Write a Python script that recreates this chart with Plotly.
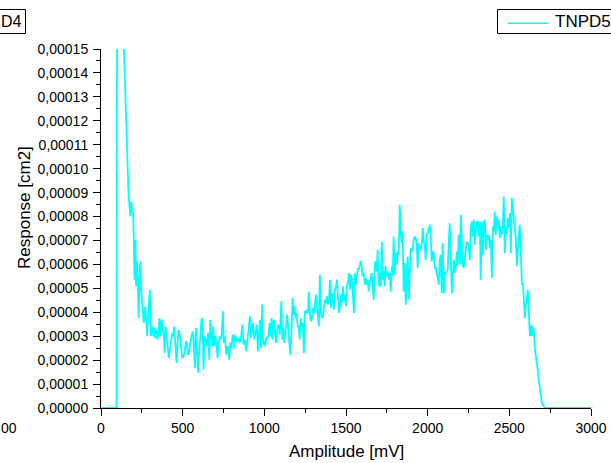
import plotly.graph_objects as go

# ---- data ----
amplitude_mv = [
    0, 95, 100, 115, 125, 135,
    168, 179, 185, 191, 197, 201, 205, 211, 215, 220, 226, 230, 240, 246, 256, 262, 271, 277, 283, 289,
    299, 305, 313, 320, 326, 332, 338, 346, 352, 358, 364, 371, 377, 385, 389, 395, 403, 409, 416, 422,
    430, 436, 442, 448, 456, 463, 469, 475, 483, 491, 497, 505, 511, 520, 526, 532, 540, 546, 554, 561,
    569, 575, 581, 589, 595, 601, 610, 616, 622, 628, 634, 642, 650, 656, 663, 669, 675, 681, 687, 693,
    699, 706, 714, 720, 726, 732, 738, 746, 752, 759, 767, 773, 779, 785, 791, 799, 806, 814,
    816, 824, 832, 840, 848, 856, 865, 873, 881, 889, 897, 905, 912, 918, 924, 930, 938, 946, 954, 961,
    967, 973, 979, 987, 993, 999, 1006, 1012, 1020, 1026, 1032, 1038, 1044, 1050, 1057, 1063, 1071, 1077,
    1083, 1089, 1095, 1104, 1110, 1116, 1122, 1128, 1134, 1140, 1146, 1153, 1159, 1167, 1173, 1179, 1185,
    1191, 1197, 1204, 1210, 1216, 1222, 1228, 1236, 1242, 1248, 1255, 1261, 1267, 1273, 1279, 1285, 1291,
    1298, 1304, 1310, 1316, 1322, 1328, 1334, 1340, 1347, 1353, 1359, 1365, 1371, 1377, 1383, 1389, 1396,
    1402, 1408, 1414, 1420, 1426, 1432, 1438, 1445, 1451, 1457, 1463, 1469, 1475, 1481, 1487, 1494, 1500,
    1506, 1512, 1518, 1524, 1530, 1536, 1543, 1549, 1555, 1561, 1567, 1573, 1579,
    1590, 1596, 1602, 1608, 1615, 1621, 1627, 1633, 1639, 1645, 1651, 1657, 1664, 1670, 1676, 1682, 1688,
    1694, 1700, 1706, 1713, 1719, 1725, 1731, 1737, 1743, 1749, 1755, 1762, 1768, 1774, 1780, 1786, 1792,
    1798, 1804, 1811, 1817, 1823, 1829, 1835, 1841, 1847, 1853, 1860, 1866, 1872, 1878, 1884, 1890, 1896,
    1903, 1909, 1915, 1921, 1927, 1933, 1939, 1945, 1951, 1958, 1964, 1970, 1976, 1982, 1988, 1994, 2001,
    2007, 2013, 2019, 2025, 2031, 2037, 2043, 2050, 2056, 2062, 2068, 2074, 2080, 2086, 2092, 2099, 2105,
    2111, 2117, 2123, 2129, 2135, 2141, 2148, 2154, 2160, 2166, 2172, 2178, 2184, 2190, 2197, 2203, 2209,
    2215, 2221, 2227, 2233, 2239, 2246, 2252, 2258, 2264, 2270, 2276, 2282, 2288, 2295, 2301, 2307, 2313,
    2319, 2325, 2331, 2337, 2344,
    2350, 2356, 2362, 2368, 2374, 2381, 2387, 2393, 2399, 2405, 2411, 2417, 2423, 2430, 2436, 2442, 2448,
    2454, 2460, 2466, 2472, 2479, 2485, 2491, 2497, 2503, 2509, 2515, 2521, 2528, 2534, 2540, 2546, 2552,
    2558, 2564, 2570, 2577, 2583, 2589, 2595, 2601, 2607, 2613, 2620, 2626, 2632, 2638, 2644, 2650, 2656,
    2662, 2668, 2675, 2681, 2687, 2693, 2699, 2705, 2711, 2717, 3000,
]

# response in units of 1e-5 cm2
response_e5 = [
    0, 0, 28.0, 24.0, 20.0, 16.1,
    9.05, 8.00, 8.63, 8.21, 8.14, 7.03, 5.36, 7.03, 5.08, 6.13, 5.36, 3.76, 6.13, 4.94, 4.25, 3.55, 4.25, 3.41, 3.00, 3.97,
    4.94, 3.00, 3.41, 3.00, 3.34, 2.93, 3.27, 2.86, 3.27, 3.76, 3.00, 3.69, 3.41, 3.00, 2.30, 3.41, 2.86, 2.44, 2.09, 2.51,
    3.00, 3.14, 3.00, 3.41, 2.58, 1.88, 2.72, 3.27, 3.00, 2.58, 2.09, 2.16, 2.30, 2.79, 2.72, 2.23, 2.30, 2.72, 3.00, 3.20,
    2.58, 1.67, 3.34, 2.30, 1.47, 2.30, 3.00, 3.76, 3.69, 1.60, 3.00, 2.86, 2.58, 3.14, 2.02, 3.69, 3.00, 2.58, 3.41, 2.58,
    3.00, 2.72, 2.09, 2.58, 3.00, 2.86, 3.00, 4.04, 2.72, 3.00, 2.23, 2.58, 2.51, 2.02, 2.72, 2.51, 3.00, 3.07,
    2.51, 2.99, 2.79, 2.93, 2.72, 2.86, 3.48, 2.65, 2.86, 2.37, 2.99, 3.41, 3.83, 2.93, 3.21, 3.55, 2.86, 3.21, 3.48, 2.37,
    3.14, 3.69, 2.51, 4.32, 2.65, 2.79, 2.58, 2.93, 2.93, 3.07, 3.55, 2.99, 3.76, 2.86, 3.69, 3.41, 2.72, 3.21,
    3.48, 3.41, 3.07, 4.46, 2.86, 3.34, 2.72, 3.07, 3.41, 3.90, 3.34, 2.79, 2.23, 3.34, 4.60, 3.90, 4.25,
    3.76, 3.97, 3.41, 3.41, 2.86, 3.76, 3.41, 3.55, 2.30, 4.04, 3.97, 4.11, 3.97, 4.87, 3.90, 3.62, 3.76,
    4.18, 3.97, 4.32, 4.74, 4.25, 3.69, 3.41, 5.57, 3.90, 3.76, 3.83, 4.18, 4.53, 4.39, 4.67, 4.32, 4.53,
    5.36, 4.18, 4.80, 4.32, 4.11, 4.94, 5.08, 5.36, 4.80, 3.97, 4.25, 4.74, 4.39, 5.08, 4.46, 4.74, 4.25,
    5.15, 5.22, 5.64, 4.94, 5.57, 5.36, 4.67, 3.97, 5.64, 5.15, 5.50, 5.85, 5.78,
    6.13, 5.92, 5.50, 5.64, 5.15, 5.43, 5.15, 5.36, 4.87, 5.22, 5.50, 5.64, 4.94, 4.53, 5.99, 6.13, 5.71,
    6.61, 5.08, 5.64, 5.08, 6.96, 5.36, 5.71, 5.08, 5.92, 5.50, 5.71, 5.36, 5.64, 4.87, 5.92, 5.50, 7.17,
    5.57, 6.47, 5.99, 6.54, 6.40, 8.49, 7.31, 6.89, 7.38, 4.87, 6.06, 4.32, 5.64, 6.33, 4.53, 5.64, 6.68,
    6.54, 6.68, 7.03, 7.17, 7.10, 6.82, 5.85, 6.89, 6.68, 6.61, 6.89, 7.52, 6.96, 6.82, 6.19, 7.24, 7.31,
    7.59, 7.66, 7.03, 6.12, 6.54, 6.47, 5.85, 5.85, 5.57, 5.43, 5.15, 6.19, 6.40, 4.80, 6.89, 4.80, 5.64,
    5.64, 5.71, 5.78, 6.89, 7.72, 6.33, 4.80, 5.50, 6.19, 5.64, 5.85, 6.54, 5.99, 7.24, 5.99, 8.07, 6.82,
    5.99, 5.85, 6.33, 6.54, 6.96, 6.89, 6.68, 6.19, 7.59, 7.79, 7.17, 7.86, 6.82, 7.38, 7.79, 7.79, 7.17,
    7.79, 5.36, 7.79, 6.40, 7.79,
    7.86, 6.61, 7.24, 7.03, 7.24, 6.68, 7.03, 5.43, 7.59, 7.38, 8.21, 7.24, 8.00, 7.52, 7.86, 7.10, 7.59,
    7.24, 7.66, 8.84, 6.47, 7.52, 7.31, 7.93, 7.52, 8.14, 6.47, 8.77, 8.28, 8.00, 7.52, 7.03, 5.92, 6.89,
    7.24, 7.66, 6.75, 5.15, 5.22, 4.66, 3.76, 4.32, 4.53, 4.94, 3.90, 3.00, 3.48, 3.00, 3.41, 3.21, 2.51,
    2.23, 1.81, 1.54, 1.12, 0.84, 0.42, 0.22, 0.15, 0.08, 0, 0,
]
response_cm2 = [v * 1e-5 for v in response_e5]

x_ticks = [0, 500, 1000, 1500, 2000, 2500, 3000]
series_name = "TNPD5"
x_title = "Amplitude [mV]"
y_title = "Response [cm2]"
# visible fragments of the neighbouring chart at the left edge
left_legend_fragment = "D4"
left_tick_fragment = "00"

# ---- layout geometry (pixels) ----
W, H = 611, 463
ML, MR, MT, MB = 101, 20, 49, 55
PW, PH = W - ML - MR, H - MT - MB


def px(x):
    return (x - ML) / PW


def py(y):
    return (H - MB - y) / PH


FONT = "Liberation Sans, Arial, sans-serif"
CYAN = "#00FFFF"

fig = go.Figure()
fig.add_trace(go.Scatter(
    x=amplitude_mv, y=response_cm2, mode="lines", name=series_name,
    line=dict(color=CYAN, width=1.8), showlegend=False,
))

axis_common = dict(
    showline=True, linecolor="black", linewidth=1,
    ticks="outside", ticklen=7, tickwidth=1, tickcolor="black",
    showgrid=False, zeroline=False, mirror=False, automargin=False,
    tickfont=dict(family=FONT, size=14, color="black"),
    layer="below traces",
)

fig.update_layout(
    template="none",
    width=W, height=H,
    margin=dict(l=ML, r=MR, t=MT, b=MB, pad=0, autoexpand=False),
    paper_bgcolor="white", plot_bgcolor="white",
    separators=",.",
    font=dict(family=FONT, color="black"),
    xaxis=dict(range=[0, 3000], tickmode="array", tickvals=x_ticks,
               minor=dict(ticks="outside", ticklen=4, dtick=250, tickcolor="black", tickwidth=1),
               **axis_common),
    yaxis=dict(range=[0, 0.00015], dtick=0.00001, tick0=0, tickformat=".5f",
               minor=dict(ticks="outside", ticklen=4, dtick=0.000005, tickcolor="black", tickwidth=1),
               ticklabelstandoff=2,
               **axis_common),
    showlegend=False,
)

# axis titles
fig.add_annotation(text=x_title, xref="paper", yref="paper", x=px(346), y=py(451),
                   xanchor="center", yanchor="middle", showarrow=False,
                   font=dict(family=FONT, size=17, color="black"))
fig.add_annotation(text=y_title, xref="paper", yref="paper", x=px(24), y=py(208),
                   xanchor="center", yanchor="middle", showarrow=False, textangle=-90,
                   font=dict(family=FONT, size=17, color="black"))

# legend box (cut off at the right edge)
fig.add_shape(type="rect", xref="paper", yref="paper",
              x0=px(497.5), x1=px(680), y0=py(9.5), y1=py(33.5),
              line=dict(color="black", width=1), fillcolor="white", layer="above")
fig.add_shape(type="line", xref="paper", yref="paper",
              x0=px(508), x1=px(548), y0=py(23.3), y1=py(23.3),
              line=dict(color=CYAN, width=1.6), layer="above")
fig.add_annotation(text=series_name, xref="paper", yref="paper", x=px(553), y=py(21.5),
                   xanchor="left", yanchor="middle", showarrow=False,
                   font=dict(family=FONT, size=17, color="black"))

# neighbouring chart fragments at the left edge
fig.add_shape(type="rect", xref="paper", yref="paper",
              x0=px(-60), x1=px(25.5), y0=py(9.5), y1=py(33.5),
              line=dict(color="black", width=1), fillcolor="white", layer="above")
fig.add_annotation(text=left_legend_fragment, xref="paper", yref="paper", x=px(-1), y=py(21.5),
                   xanchor="left", yanchor="middle", showarrow=False,
                   font=dict(family=FONT, size=16, color="black"))
fig.add_annotation(text=left_tick_fragment, xref="paper", yref="paper", x=px(-1.5), y=py(428),
                   xanchor="left", yanchor="middle", showarrow=False,
                   font=dict(family=FONT, size=14, color="black"))

fig.write_html("out.html")
